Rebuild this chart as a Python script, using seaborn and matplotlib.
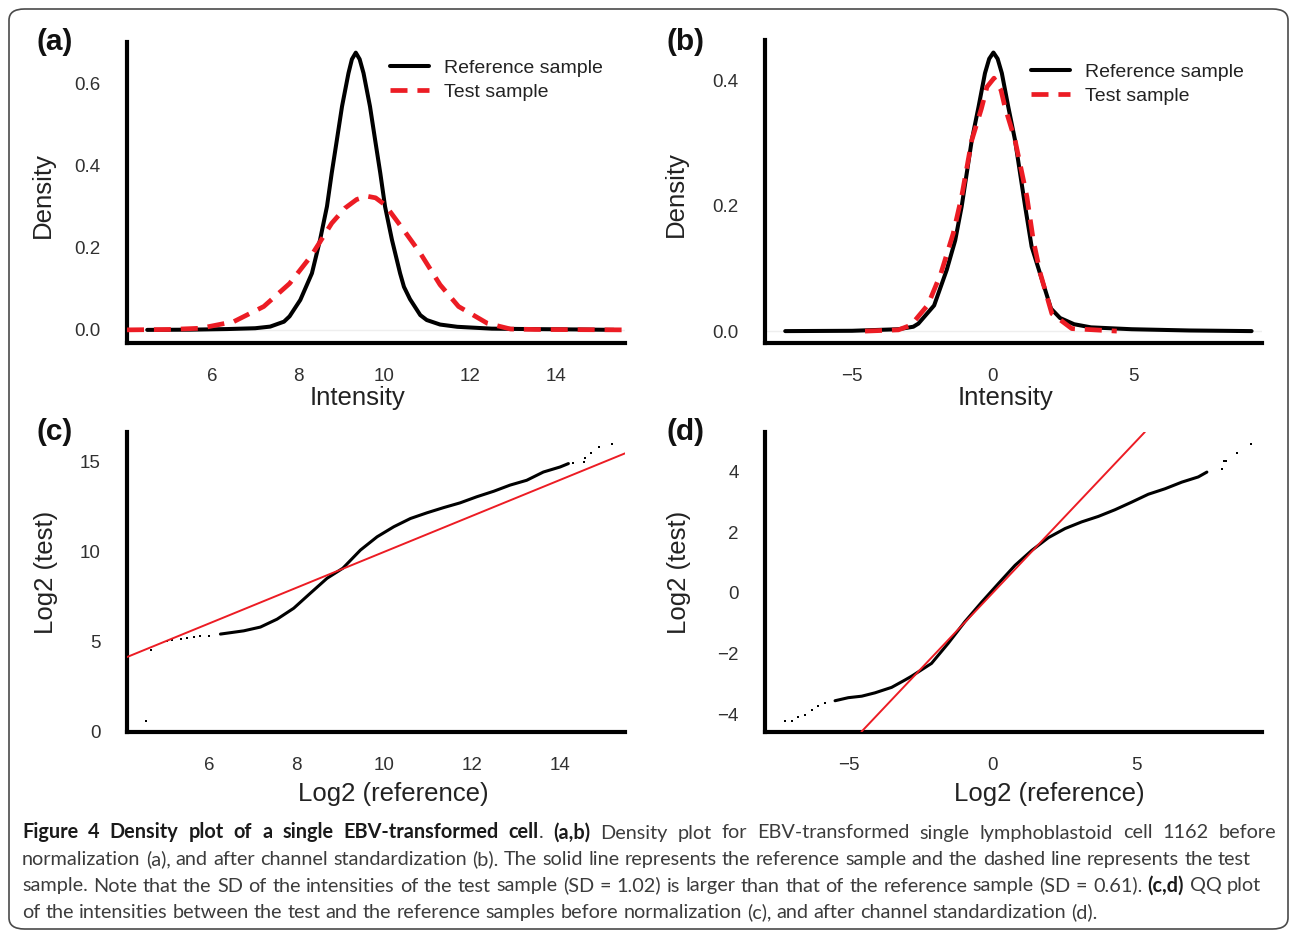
import numpy as np
import pandas as pd
import matplotlib
matplotlib.use("Agg")
import matplotlib.pyplot as plt
from matplotlib.lines import Line2D
from matplotlib.patches import FancyBboxPatch
import seaborn as sns

# ---------------- data ----------------
# (a) density before normalization
a_ref_x = [4.49, 5.5, 6.35, 7.0, 7.35, 7.67, 7.8, 8.05, 8.32, 8.51, 8.67, 8.78, 8.90, 9.02, 9.17, 9.25,
           9.34, 9.43, 9.52, 9.67, 9.79, 9.91, 10.02, 10.18, 10.37, 10.46, 10.60, 10.84, 10.99, 11.3,
           11.7, 12.5, 13.33, 14.5, 15.34]
a_ref_y = [0.0, 0.0005, 0.002, 0.004, 0.008, 0.02, 0.033, 0.073, 0.138, 0.220, 0.301, 0.382, 0.463,
           0.545, 0.626, 0.66, 0.676, 0.66, 0.626, 0.545, 0.463, 0.382, 0.301, 0.220, 0.138, 0.105,
           0.075, 0.036, 0.024, 0.013, 0.0075, 0.003, 0.002, 0.001, 0.0]
a_test_x = [4.02, 5.0, 5.73, 6.50, 7.2, 7.8, 8.3, 8.78, 9.09, 9.36, 9.6, 9.8, 10.02, 10.45, 10.84,
            11.30, 11.73, 12.40, 12.94, 13.5, 15.6]
a_test_y = [0.0, 0.001, 0.004, 0.020, 0.057, 0.113, 0.18, 0.26, 0.297, 0.318, 0.326, 0.322, 0.305,
            0.244, 0.187, 0.110, 0.057, 0.016, 0.002, 0.001, 0.0]

# (b) density after channel standardization
b_ref_x = [-7.38, -5.0, -3.35, -2.82, -2.64, -2.08, -1.63, -1.33, -1.10, -0.92, -0.74, -0.50, -0.27,
           -0.12, 0.03, 0.18, 0.33, 0.56, 0.80, 0.98, 1.16, 1.39, 1.69, 2.08, 2.4, 2.9, 3.5, 4.95,
           7.0, 9.22]
b_ref_y = [0.0, 0.0005, 0.003, 0.007, 0.012, 0.041, 0.098, 0.145, 0.199, 0.252, 0.305, 0.358, 0.412,
           0.435, 0.445, 0.435, 0.412, 0.358, 0.305, 0.252, 0.199, 0.135, 0.092, 0.036, 0.021, 0.011,
           0.006, 0.003, 0.001, 0.0]
b_test_x = [-4.54, -3.35, -2.9, -2.3, -1.84, -1.40, -1.10, -0.74, -0.40, -0.2, 0.05, 0.3, 0.44, 0.80,
            1.22, 1.45, 1.7, 2.11, 2.82, 4.42]
b_test_y = [0.0, 0.002, 0.0096, 0.042, 0.092, 0.156, 0.215, 0.305, 0.355, 0.39, 0.404, 0.385, 0.358,
            0.305, 0.215, 0.145, 0.092, 0.028, 0.004, 0.0]

# (c) QQ plot before normalization
c_body_x = [6.26, 6.79, 7.17, 7.55, 7.93, 8.31, 8.69, 9.05, 9.45, 9.83, 10.21, 10.59, 10.97, 11.35,
            11.72, 12.10, 12.49, 12.86, 13.24, 13.62, 14.0, 14.19]
c_body_y = [5.41, 5.59, 5.80, 6.24, 6.85, 7.69, 8.52, 9.08, 10.09, 10.83, 11.39, 11.85, 12.17, 12.46,
            12.72, 13.06, 13.37, 13.71, 13.98, 14.44, 14.72, 14.91]
c_tail_x = [4.57, 4.68, 5.04, 5.15, 5.35, 5.5, 5.65, 5.8, 6.0, 14.3, 14.54, 14.57, 14.70, 14.88, 15.18]
c_tail_y = [0.59, 4.54, 5.0, 5.06, 5.12, 5.18, 5.24, 5.28, 5.33, 14.95, 15.0, 15.24, 15.5, 15.83, 16.02]

# (d) QQ plot after channel standardization
d_body_x = [-5.49, -5.03, -4.56, -4.10, -3.52, -3.06, -2.82, -2.13, -1.55, -0.97, -0.38, 0.20, 0.78,
            1.36, 1.94, 2.52, 3.10, 3.68, 4.26, 4.84, 5.42, 6.0, 6.59, 7.16, 7.46]
d_body_y = [-3.55, -3.45, -3.40, -3.29, -3.11, -2.87, -2.74, -2.32, -1.66, -0.95, -0.30, 0.31, 0.91,
            1.40, 1.82, 2.12, 2.34, 2.52, 2.74, 2.99, 3.25, 3.43, 3.65, 3.82, 3.98]
d_tail_x = [-7.24, -7.0, -6.77, -6.54, -6.31, -6.08, -5.84, 7.98, 8.07, 8.13, 8.50, 9.0]
d_tail_y = [-4.22, -4.21, -4.08, -4.02, -3.84, -3.73, -3.64, 4.09, 4.33, 4.36, 4.62, 4.91]

# identity reference line of the QQ plots
qq_slope = 1.0
qq_intercept = 0.0

series_labels = ["Reference sample", "Test sample"]
panel_tags = ["(a)", "(b)", "(c)", "(d)"]

a_xticks = [6, 8, 10, 12, 14]
a_yticks = [0.0, 0.1, 0.2, 0.3, 0.4, 0.5, 0.6, 0.7]
a_yticklabels = ["0.0", "", "0.2", "", "0.4", "", "0.6", ""]
b_xticks = [-5, 0, 5]
b_yticks = [0.0, 0.1, 0.2, 0.3, 0.4]
b_yticklabels = ["0.0", "", "0.2", "", "0.4"]
c_xticks = [6, 8, 10, 12, 14]
c_yticks = [0, 5, 10, 15]
d_xticks = [-5, 0, 5]
d_yticks = [-4, -2, 0, 2, 4]

caption_lines = [
    [("Figure 4 Density plot of a single EBV-transformed cell", True, False), (".", False, False),
     ("(a,b)", True, True),
     ("Density plot for EBV-transformed single lymphoblastoid cell 1162 before", False, True)],
    [("normalization (a), and after channel standardization (b). The solid line represents the "
      "reference sample and the dashed line represents the test", False, False)],
    [("sample. Note that the SD of the intensities of the test sample (SD = 1.02) is larger than "
      "that of the reference sample (SD = 0.61).", False, False), ("(c,d)", True, True),
     ("QQ plot", False, True)],
    [("of the intensities between the test and the reference samples before normalization (c), "
      "and after channel standardization (d).", False, False)],
]

# ---------------- style ----------------
sns.set_style("white")
plt.rcParams['font.family'] = ['Liberation Sans', 'DejaVu Sans']
plt.rcParams['axes.unicode_minus'] = True

RED = "#ec1c24"
W, H = 1293, 932
fig = plt.figure(figsize=(W / 100, H / 100), dpi=100)
fig.patch.set_facecolor("white")


def px_axes(left, top, right, bottom):
    return fig.add_axes([left / W, 1 - bottom / H, (right - left) / W, (bottom - top) / H])


def fmt(v):
    s = f"{v:g}"
    return s.replace("-", "\u2212")


def style(ax, xlim, ylim, xticks, yticks, yticklabels, xlabel, ylabel, xlab_pos, ylab_pos):
    ax.set_xlim(xlim)
    ax.set_ylim(ylim)
    ax.set_xticks(xticks)
    ax.set_xticklabels([fmt(v) for v in xticks])
    ax.set_yticks(yticks)
    ax.set_yticklabels(yticklabels)
    for s in ["top", "right"]:
        ax.spines[s].set_visible(False)
    for s in ["left", "bottom"]:
        ax.spines[s].set_linewidth(3)
        ax.spines[s].set_color("black")
        ax.spines[s].set_capstyle("projecting")
    ax.tick_params(axis="both", direction="out", length=12, width=3, color="black",
                   labelsize=13.5, labelcolor="#303030")
    ax.tick_params(axis="x", pad=6)
    ax.tick_params(axis="y", pad=7)
    ax.set_xlabel(xlabel, fontsize=18.5, color="#222222")
    ax.set_ylabel(ylabel, fontsize=18.5, color="#222222")
    ax.xaxis.set_label_coords(*xlab_pos)
    ax.yaxis.set_label_coords(*ylab_pos)
    ax.set_facecolor("none")


dash = (0, (3.6, 2.1))

# ---- (a)
ax_a = px_axes(127, 42, 625, 343)
ax_a.axhline(0, color="#eeeeee", lw=1, zorder=0)
sns.lineplot(x=a_test_x, y=a_test_y, ax=ax_a, color=RED, lw=3.4, linestyle=dash,
             estimator=None, sort=False, legend=False, zorder=3)
sns.lineplot(x=a_ref_x, y=a_ref_y, ax=ax_a, color="black", lw=2.9,
             estimator=None, sort=False, legend=False, zorder=2)
style(ax_a, (4.02, 15.6), (-0.032, 0.702), a_xticks, a_yticks, a_yticklabels,
      "Intensity", "Density", (0.462, -0.142), (-0.145, 0.49))

# ---- (b)
ax_b = px_axes(765, 40, 1262, 343)
ax_b.axhline(0, color="#eeeeee", lw=1, zorder=0)
sns.lineplot(x=b_ref_x, y=b_ref_y, ax=ax_b, color="black", lw=2.9,
             estimator=None, sort=False, legend=False, zorder=2)
sns.lineplot(x=b_test_x, y=b_test_y, ax=ax_b, color=RED, lw=3.4, linestyle=dash,
             estimator=None, sort=False, legend=False, zorder=3)
style(ax_b, (-8.1, 9.59), (-0.019, 0.465), b_xticks, b_yticks, b_yticklabels,
      "Intensity", "Density", (0.483, -0.142), (-0.155, 0.49))

handles = [Line2D([0], [0], color="black", lw=2.9),
           Line2D([0], [0], color=RED, lw=3.4, linestyle=dash)]
for ax, (lx, ly) in [(ax_a, (390, 59)), (ax_b, (1031, 63))]:
    ax.legend(handles, series_labels, loc="upper left", bbox_to_anchor=(lx / W, 1 - ly / H),
              bbox_transform=fig.transFigure, frameon=False, borderpad=0, borderaxespad=0,
              handlelength=2.0, handletextpad=0.8, labelspacing=0.33, fontsize=14,
              labelcolor="#222222")

# ---- (c)
ax_c = px_axes(127, 432, 625, 731.7)
ax_c.axline((0, qq_intercept), slope=qq_slope, color=RED, lw=1.4, zorder=3)
sns.lineplot(x=c_body_x, y=c_body_y, ax=ax_c, color="black", lw=2.2,
             estimator=None, sort=False, legend=False, zorder=2)
sns.scatterplot(x=c_tail_x, y=c_tail_y, ax=ax_c, color="black", s=2.5, marker="s",
                linewidth=0, legend=False, zorder=2)
style(ax_c, (4.13, 15.48), (-0.03, 16.67), c_xticks, c_yticks, [fmt(v) for v in c_yticks],
      "Log2 (reference)", "Log2 (test)", (0.534, -0.168), (-0.138, 0.532))

# ---- (d)
ax_d = px_axes(765, 432, 1262, 731.7)
ax_d.axline((0, qq_intercept), slope=qq_slope, color=RED, lw=1.4, zorder=3)
sns.lineplot(x=d_body_x, y=d_body_y, ax=ax_d, color="black", lw=2.2,
             estimator=None, sort=False, legend=False, zorder=2)
sns.scatterplot(x=d_tail_x, y=d_tail_y, ax=ax_d, color="black", s=2.5, marker="s",
                linewidth=0, legend=False, zorder=2)
style(ax_d, (-7.93, 9.38), (-4.57, 5.30), d_xticks, d_yticks, [fmt(v) for v in d_yticks],
      "Log2 (reference)", "Log2 (test)", (0.573, -0.168), (-0.148, 0.532))

# panel tags
for tag, (tx, ty) in zip(panel_tags, [(37, 42), (667, 42), (37, 432), (667, 432)]):
    fig.text(tx / W, 1 - ty / H, tag, fontsize=21.5, fontweight="bold", ha="left", va="center",
             color="#111111")

# ---- caption (justified word by word)
renderer = fig.canvas.get_renderer()
CAP_FONT = ["Lato", "DejaVu Sans"]


def measure(s, size, bold):
    t = fig.text(0, 0, s, fontsize=size, fontweight="bold" if bold else "normal", family=CAP_FONT)
    w = t.get_window_extent(renderer).width
    t.remove()
    return w


def tokens(line):
    toks = []
    first = True
    for s, bold, sp in line:
        for i, w in enumerate(s.split(" ")):
            gap = (sp if i == 0 else True) and not first
            toks.append((w, bold, gap))
            first = False
    return toks


def natural(line, size):
    space = measure("a a", size, False) - measure("aa", size, False)
    toks = tokens(line)
    widths = [measure(w, size, b) for w, b, g in toks]
    ngap = sum(1 for t in toks if t[2])
    return sum(widths) + ngap * space, widths, toks, space, ngap


def draw_line(line, y_base, size, x0=22, right=None):
    nat, widths, toks, space, ngap = natural(line, size)
    gap = space if right is None else space + (right - x0 - nat) / max(ngap, 1)
    x = x0
    for (w, bold, g), wd in zip(toks, widths):
        if g:
            x += gap
        fig.text(x / W, 1 - y_base / H, w, fontsize=size,
                 fontweight="bold" if bold else "normal", family=CAP_FONT,
                 color="#1a1a1a" if bold else "#3c3c3c", ha="left", va="baseline")
        x += wd


rights = [1276, 1251, 1261, None]
base = 12
cap_size = min(base * (r - 22 - 6) / natural(l, base)[0]
               for l, r in zip(caption_lines, rights) if r is not None)
for line, yb, right in zip(caption_lines, [838.5, 865, 891.5, 918], rights):
    draw_line(line, yb, cap_size, right=right)

# rounded border
border = FancyBboxPatch((9 / W, 1 - 929 / H), (1288 - 9) / W, (929 - 9) / H,
                        boxstyle="round,pad=0,rounding_size=0.012", transform=fig.transFigure,
                        fill=False, edgecolor="#4a4a4a", lw=1.2, zorder=0)
fig.patches.append(border)

fig.savefig("out.png", dpi=100, facecolor="white")
